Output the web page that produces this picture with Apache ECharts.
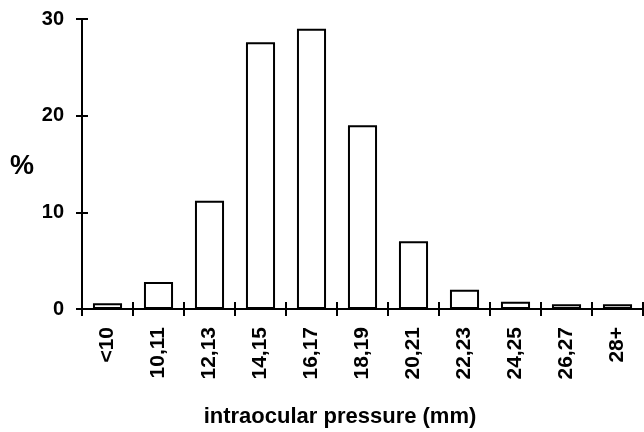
<!DOCTYPE html>
<html><head><meta charset="utf-8">
<script src="https://cdn.jsdelivr.net/npm/echarts@6/dist/echarts.min.js"></script>
<style>html,body{margin:0;padding:0;background:#fff}#c{width:644px;height:432px}</style>
</head><body><div id="c"></div>
<script>
const categories = ['<10','10,11','12,13','14,15','16,17','18,19','20,21','22,23','24,25','26,27','28+'];
const percent = [0.6, 2.8, 11.2, 27.6, 29.0, 19.0, 7.0, 2.0, 0.75, 0.5, 0.5];
const yTicks = [0, 10, 20, 30];
const xTitle = 'intraocular pressure (mm)';
const yTitle = '%';

const font = 'Liberation Sans, Arial, Helvetica, sans-serif';
const ink = '#000';
const chart = echarts.init(document.getElementById('c'));
const baseX = {
  type: 'category', data: categories, boundaryGap: true,
  axisLine: {lineStyle: {color: ink, width: 2}},
  axisTick: {show: true, length: 7, lineStyle: {color: ink, width: 2}, alignWithLabel: false},
};
const baseY = {
  type: 'value', min: 0, max: 30, interval: 10,
  axisLine: {show: true, lineStyle: {color: ink, width: 2}},
  axisTick: {show: true, length: 6, lineStyle: {color: ink, width: 2}},
  splitLine: {show: false}
};
chart.setOption({
  animation: false,
  grid: {left: 82, right: 1, top: 19, bottom: 123, containLabel: false},
  title: [
    {text: xTitle, left: 335, textAlign: 'center', top: 401, textStyle: {fontFamily: font, fontSize: 22, fontWeight: 'bold', color: ink}},
    {text: yTitle, left: 5, top: 148, textStyle: {fontFamily: font, fontSize: 27, fontWeight: 'bold', color: ink}}
  ],
  xAxis: [
    Object.assign({}, baseX, {
      position: 'bottom',
      axisLabel: {rotate: 90, margin: 18, fontFamily: font, fontSize: 21, fontWeight: 'bold', color: ink, interval: 0}
    }),
    Object.assign({}, baseX, {
      position: 'bottom',
      axisTick: {show: true, inside: true, length: 7, lineStyle: {color: ink, width: 2}},
      axisLabel: {show: false}
    })
  ],
  yAxis: [
    Object.assign({}, baseY, {
      axisLabel: {margin: 18, fontFamily: font, fontSize: 20, fontWeight: 'bold', color: ink,
        formatter: v => yTicks.includes(v) ? String(v) : ''}
    }),
    Object.assign({}, baseY, {
      position: 'left',
      axisTick: {show: true, inside: true, length: 6, lineStyle: {color: ink, width: 2}},
      axisLabel: {show: false}
    })
  ],
  series: [{
    type: 'bar', data: percent, xAxisIndex: 0, yAxisIndex: 0,
    barCategoryGap: '43%',
    itemStyle: {color: '#fff', borderColor: ink, borderWidth: 2}
  }]
});
</script></body></html>
